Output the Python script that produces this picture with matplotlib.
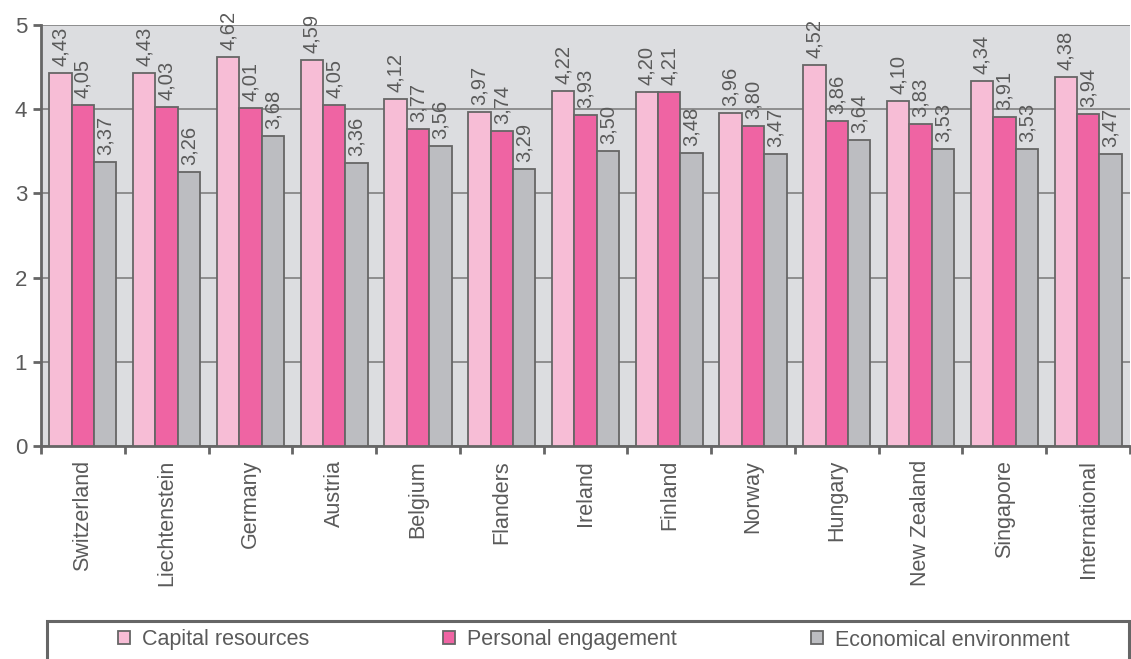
import matplotlib
matplotlib.use("Agg")
import matplotlib.pyplot as plt
import numpy as np
from matplotlib.patches import Rectangle

categories = ["Switzerland", "Liechtenstein", "Germany", "Austria", "Belgium", "Flanders",
              "Ireland", "Finland", "Norway", "Hungary", "New Zealand", "Singapore", "International"]
capital = [4.43, 4.43, 4.62, 4.59, 4.12, 3.97, 4.22, 4.20, 3.96, 4.52, 4.10, 4.34, 4.38]
personal = [4.05, 4.03, 4.01, 4.05, 3.77, 3.74, 3.93, 4.21, 3.80, 3.86, 3.83, 3.91, 3.94]
economic = [3.37, 3.26, 3.68, 3.36, 3.56, 3.29, 3.50, 3.48, 3.47, 3.64, 3.53, 3.53, 3.47]
series_names = ["Capital resources", "Personal engagement", "Economical environment"]
colors = ["#f7bdd6", "#ef64a3", "#bcbdc1"]

plt.rcParams['font.family'] = ['Liberation Sans', 'DejaVu Sans']
txt = "#5a5a5a"
edge = "#666666"

fig = plt.figure(figsize=(11.31, 6.59), dpi=100)
W, H = 1131, 659
ax = fig.add_axes([41 / W, 1 - 446 / H, (1130 - 41) / W, (446 - 25) / H])
ax.set_facecolor("#dcdde0")

x = np.arange(len(categories))
bw = 0.267
series = [capital, personal, economic]
bars = []
for i, (vals, c, name) in enumerate(zip(series, colors, series_names)):
    pos = x + (i - 1) * bw
    b = ax.bar(pos, vals, width=bw, color=c, edgecolor=edge, linewidth=1.3, label=name, zorder=3)
    bars.append(b)
    for px, v in zip(pos, vals):
        ax.annotate(f"{v:.2f}".replace(".", ","), (px, v), xytext=(0, 5), textcoords="offset points",
                    rotation=90, ha="center", va="bottom", fontsize=14.5, color=txt, zorder=4)

ax.set_xlim(-0.5, len(categories) - 0.5)
ax.set_ylim(0, 5)
ax.set_yticks([0, 1, 2, 3, 4, 5])
ax.yaxis.grid(True, color="#808080", linewidth=1.2, zorder=0)
ax.set_axisbelow(True)
ax.set_xticks(x)
ax.set_xticklabels(categories, rotation=90, fontsize=15.5, color=txt, va="top")
ax.set_xticks(np.arange(len(categories) + 1) - 0.5, minor=True)
ax.tick_params(axis="x", which="major", length=0, pad=10)
ax.tick_params(axis="x", which="minor", length=6, width=2, color=edge, direction="out")
ax.tick_params(axis="y", length=6, width=2, color=edge, labelsize=16, labelcolor=txt, pad=4)
for s in ["top", "right"]:
    ax.spines[s].set_visible(False)
for s in ["left", "bottom"]:
    ax.spines[s].set_color(edge)
    ax.spines[s].set_linewidth(2)

# legend frame (cut at bottom)
rect = Rectangle((47 / W, -0.05), (1129 - 47) / W, (1 - 621 / H) + 0.05, transform=fig.transFigure,
                 fill=False, edgecolor=edge, linewidth=2.2)
fig.patches.append(rect)

leg = fig.legend(handles=bars, labels=series_names, loc="center left",
                 bbox_to_anchor=(118 / W, 1 - 640 / H), ncol=3, frameon=False,
                 fontsize=15.5, handlelength=0.55, handleheight=0.55, handletextpad=0.55,
                 columnspacing=6.25, borderaxespad=0, borderpad=0)
for t in leg.get_texts():
    t.set_color(txt)

fig.savefig("out.png", dpi=100)
